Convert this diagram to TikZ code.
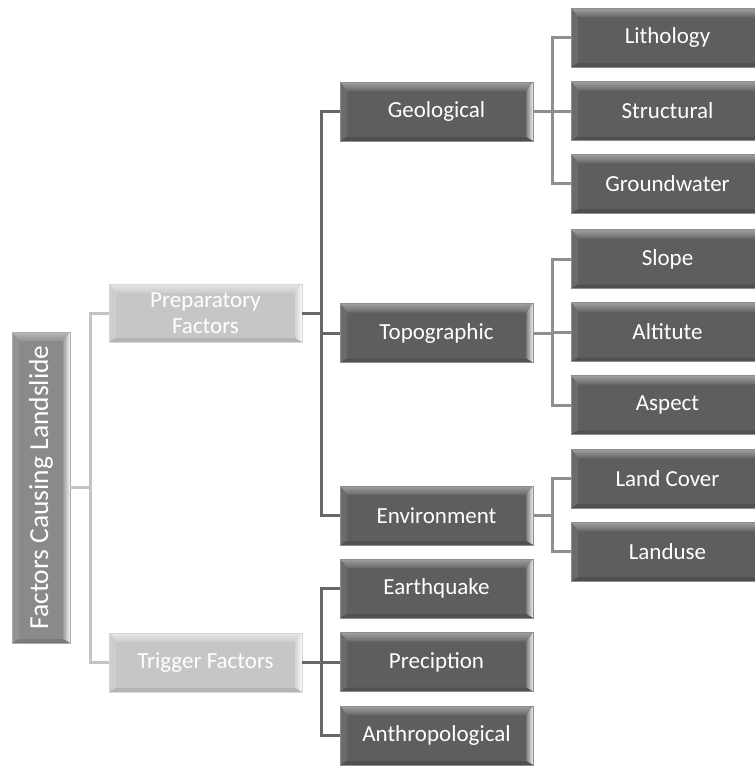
\documentclass[tikz,border=0pt]{standalone}
\usepackage{fontspec}
\setmainfont{Carlito}
\usetikzlibrary{calc}
\definecolor{dkbase}{HTML}{5E5E5E}
\definecolor{dklight}{HTML}{A0A0A0}
\definecolor{dkdark}{HTML}{505050}
\definecolor{ltbase}{HTML}{C6C6C6}
\definecolor{ltlight}{HTML}{E6E6E6}
\definecolor{ltdark}{HTML}{B4B4B4}
\definecolor{rtbase}{HTML}{8A8A8A}
\definecolor{rtlight}{HTML}{B8B8B8}
\definecolor{rtdark}{HTML}{7A7A7A}
\definecolor{lnlight}{HTML}{C4C4C4}
\definecolor{lndark}{HTML}{676767}
\definecolor{lnmid}{HTML}{8E8E8E}
\tikzset{
  bevel/.style n args={3}{
    fill=#1, draw=#1!70!white, line width=0.8pt,
    path picture={
      \coordinate (bnw) at (path picture bounding box.north west);
      \coordinate (bne) at (path picture bounding box.north east);
      \coordinate (bsw) at (path picture bounding box.south west);
      \coordinate (bse) at (path picture bounding box.south east);
      \shade[top color=#2, bottom color=#1!85!#2] (bnw) -- (bne) -- ($(bne)+(-7,-9)$) -- ($(bnw)+(7,-9)$) -- cycle;
      \fill[#1!80!#2] (bnw) -- ($(bnw)+(7,-9)$) -- ($(bsw)+(7,4)$) -- (bsw) -- cycle;
      \shade[left color=#1!60!#2, right color=white!85!#2] (bne) -- ($(bne)+(-7,-9)$) -- ($(bse)+(-7,4)$) -- (bse) -- cycle;
      \fill[#3] (bsw) -- ($(bsw)+(7,4)$) -- ($(bse)+(-7,4)$) -- (bse) -- cycle;
    }},
  dkbox/.style={bevel={dkbase}{dklight}{dkdark}, minimum width=193, minimum height=59, inner sep=0pt, text=white, font=\fontsize{23}{26}\selectfont, align=center},
  ltbox/.style={bevel={ltbase}{ltlight}{ltdark}, minimum width=193, minimum height=58, inner sep=0pt, text=white, font=\fontsize{23}{26}\selectfont, align=center},
  rtbox/.style={bevel={rtbase}{rtlight}{rtdark}, minimum width=58, minimum height=311, inner sep=0pt},
  rttext/.style={rotate=90, text=white, font=\fontsize{27.5}{30}\selectfont, inner sep=0pt},
  lnA/.style={draw=lnlight, line width=3pt},
  lnB/.style={draw=lndark, line width=3pt},
  lnC/.style={draw=lnmid, line width=3pt},
}
\begin{document}
\begin{tikzpicture}[x=1pt,y=1pt]
\useasboundingbox (0,0) rectangle (755,-766);
\coordinate (j0) at (90,-487.5);
\coordinate (j1) at (321.5,-313);
\coordinate (j2) at (321.5,-662.5);
\coordinate (j3) at (552.5,-111.5);
\coordinate (j4) at (552.5,-333);
\coordinate (j5) at (552.5,-515.5);
\node[rtbox] (root) at (41,-487.5) {};
\node[rttext] (roottext) at (root.center) {Factors Causing Landslide};
\node[ltbox] (prep) at (205.5,-313) {Preparatory\\Factors};
\node[ltbox, minimum height=59] (trig) at (205.5,-662.5) {Trigger Factors};
\node[dkbox] (geo) at (436.5,-111.5) {Geological};
\node[dkbox] (topo) at (436.5,-333) {Topographic};
\node[dkbox] (env) at (436.5,-515.5) {Environment};
\node[dkbox] (eq) at (436.5,-588.5) {Earthquake};
\node[dkbox] (prec) at (436.5,-662) {Preciption};
\node[dkbox] (anth) at (436.5,-735.5) {Anthropological};
\node[dkbox] (lith) at (667.5,-37.5) {Lithology};
\node[dkbox] (struc) at (667.5,-111) {Structural};
\node[dkbox] (gw) at (667.5,-183.5) {Groundwater};
\node[dkbox] (slope) at (667.5,-259) {Slope};
\node[dkbox] (alt) at (667.5,-332) {Altitute};
\node[dkbox] (asp) at (667.5,-405) {Aspect};
\node[dkbox] (lc) at (667.5,-478.5) {Land Cover};
\node[dkbox] (lu) at (667.5,-551.5) {Landuse};
\draw[lnA] (root.east) -- (j0);
\draw[lnA] (j0) |- (prep.west);
\draw[lnA] (j0) |- (trig.west);
\draw[lnB] (prep.east) -- (j1);
\draw[lnB] (j1) |- (geo.west);
\draw[lnB] (j1) |- (topo.west);
\draw[lnB] (j1) |- (env.west);
\draw[lnB] (trig.east) -- (j2);
\draw[lnB] (j2) |- (eq.west);
\draw[lnB] (j2) |- (prec.west);
\draw[lnB] (j2) |- (anth.west);
\draw[lnC] (geo.east) -- (j3);
\draw[lnC] (j3) |- (lith.west);
\draw[lnC] (j3) |- (struc.west);
\draw[lnC] (j3) |- (gw.west);
\draw[lnC] (topo.east) -- (j4);
\draw[lnC] (j4) |- (slope.west);
\draw[lnC] (j4) |- (alt.west);
\draw[lnC] (j4) |- (asp.west);
\draw[lnC] (env.east) -- (j5);
\draw[lnC] (j5) |- (lc.west);
\draw[lnC] (j5) |- (lu.west);
\end{tikzpicture}
\end{document}
